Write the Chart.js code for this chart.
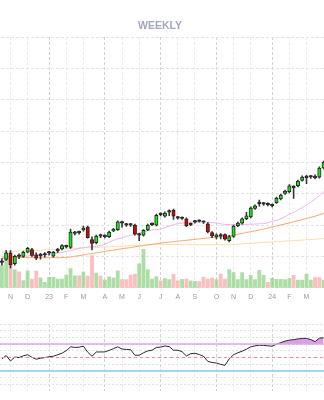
<!DOCTYPE html>
<html>
<head>
<meta charset="utf-8">
<script src="https://cdn.jsdelivr.net/npm/chart.js@4.4.0/dist/chart.umd.min.js"></script>
<style>
  html, body { margin: 0; padding: 0; background: #fff; overflow: hidden; }
  #wrap { position: relative; width: 324px; height: 400px; overflow: hidden; }
  #main { position: absolute; left: -4px; top: 0; }
  #rsi  { position: absolute; left: -4px; top: 324px; }
</style>
</head>
<body>
<div id="wrap">
  <canvas id="main" width="328" height="307"></canvas>
  <canvas id="rsi" width="328" height="67"></canvas>
</div>
<script>
// =====================
// DATA (weekly, first bar = week of 21 Oct 2022)
// =====================
const monthIdx    = [2, 6, 11, 15, 19, 24, 28, 32, 37, 41, 45, 50, 54, 58, 63, 67, 71];
const monthLabels = ["N", "D", "23", "F", "M", "A", "M", "J", "J", "A", "S", "O", "N", "D", "24", "F", "M"];
const quarterIdx  = [11, 24, 37, 50, 63];

const open  = [98.1, 99.06, 101.16, 97.72, 100.0, 100.0, 101.34, 102.19, 100.53, 100.2,
  100.45, 101.1, 100.09, 101.8, 102.41, 103.05, 102.91, 107.35, 107.5, 108.44,
  109.38, 105.41, 104.38, 106.5, 106.45, 106.34, 108.13, 108.53, 110.65, 110.15,
  110.0, 110.0, 106.95, 106.78, 108.44, 110.15, 110.0, 113.5, 112.81, 114.15,
  114.69, 112.4, 112.25, 112.03, 110.1, 110.95, 111.2, 111.0, 110.41, 107.59,
  106.19, 106.5, 106.94, 105.0, 106.41, 109.84, 110.63, 112.03, 112.59, 115.31,
  116.8, 116.85, 116.6, 116.3, 117.19, 118.34, 120.09, 120.63, 122.1, 122.5,
  124.28, 125.15, 125.35, 125.63, 125.31, 128.22];
const high  = [99.3, 101.88, 101.9, 100.4, 100.84, 101.7, 102.9, 102.6, 101.16, 101.0,
  101.2, 101.6, 101.6, 102.6, 103.8, 103.6, 108.75, 108.0, 108.1, 109.7,
  109.7, 106.25, 106.8, 107.1, 106.9, 108.1, 109.0, 111.4, 111.3, 110.6,
  110.6, 110.3, 107.4, 108.6, 110.3, 110.7, 113.5, 113.9, 114.2, 114.9,
  115.1, 112.8, 112.6, 112.3, 110.7, 111.5, 111.7, 111.4, 110.8, 107.9,
  107.2, 107.3, 107.2, 106.7, 110.0, 111.0, 112.3, 114.06, 115.8, 116.5,
  118.0, 117.3, 117.1, 116.7, 118.9, 119.9, 121.2, 122.9, 122.6, 124.4,
  125.7, 125.84, 125.9, 126.0, 128.6, 130.4];
const low   = [97.2, 98.75, 96.34, 97.2, 99.28, 99.7, 101.1, 100.0, 98.97, 99.1,
  99.8, 100.4, 99.8, 101.2, 102.1, 102.7, 102.6, 106.9, 107.1, 108.1,
  105.8, 102.1, 104.0, 106.0, 105.9, 106.0, 107.9, 108.3, 109.3, 109.6,
  109.6, 106.8, 105.0, 106.5, 108.2, 109.8, 109.7, 112.9, 112.5, 113.0,
  111.8, 111.9, 111.8, 109.5, 109.8, 110.6, 110.9, 110.5, 107.5, 106.0,
  105.6, 105.6, 105.2, 104.6, 106.1, 109.5, 110.3, 111.7, 112.3, 115.0,
  116.0, 116.3, 116.1, 115.8, 116.9, 118.0, 119.8, 120.3, 118.53, 122.2,
  124.0, 123.2, 124.9, 124.7, 125.0, 127.9];
const close = [98.3, 101.16, 97.41, 100.0, 100.2, 101.34, 102.59, 100.31, 99.47, 100.4,
  100.6, 101.25, 101.34, 101.95, 103.44, 103.2, 107.81, 107.5, 107.65, 109.06,
  106.03, 104.16, 106.47, 106.65, 106.3, 107.81, 108.66, 111.03, 110.8, 110.0,
  110.15, 107.09, 106.8, 108.34, 110.0, 110.3, 113.13, 113.35, 113.84, 114.3,
  112.81, 112.25, 112.1, 109.84, 110.25, 111.1, 111.3, 110.9, 107.81, 106.56,
  106.88, 106.65, 105.53, 106.34, 109.69, 110.63, 111.97, 112.97, 115.41, 116.16,
  116.95, 116.7, 116.5, 116.2, 118.53, 119.59, 120.84, 122.5, 121.95, 124.06,
  125.31, 125.3, 125.5, 125.09, 128.22, 130.0];

const maFast = [99.38, 99.53, 99.69, 99.84, 100.0, 100.09, 100.22, 100.31, 100.41, 100.47,
  100.63, 100.78, 100.94, 101.09, 101.25, 101.56, 101.88, 102.19, 102.66, 102.81,
  102.97, 103.13, 103.28, 103.44, 103.91, 104.53, 105.16, 105.63, 105.94, 106.41,
  106.72, 107.03, 107.5, 107.81, 108.13, 108.44, 108.59, 108.75, 109.22, 109.69,
  110.16, 110.47, 110.63, 110.78, 110.94, 111.03, 111.09, 111.03, 110.94, 110.84,
  110.63, 110.41, 110.22, 110.16, 110.16, 110.22, 110.22, 110.22, 110.31, 110.31,
  110.41, 110.47, 110.78, 111.25, 111.56, 112.03, 112.66, 113.44, 114.06, 114.84,
  115.63, 116.41, 117.34, 118.28, 119.38, 120.63];
const maMid = [99.78, 99.75, 99.72, 99.69, 99.69, 99.66, 99.63, 99.63, 99.59, 99.59,
  99.59, 99.59, 99.59, 99.59, 99.63, 99.69, 99.84, 100.06, 100.25, 100.47,
  100.72, 100.94, 101.16, 101.38, 101.63, 101.84, 102.03, 102.25, 102.47, 102.66,
  102.84, 103.06, 103.28, 103.5, 103.69, 103.88, 104.06, 104.25, 104.41, 104.56,
  104.69, 104.88, 105.0, 105.16, 105.31, 105.47, 105.63, 105.75, 105.91, 106.06,
  106.19, 106.34, 106.47, 106.56, 106.81, 107.06, 107.34, 107.63, 107.91, 108.16,
  108.44, 108.75, 109.06, 109.38, 109.72, 110.06, 110.38, 110.72, 111.06, 111.41,
  111.75, 112.09, 112.47, 112.84, 113.28, 113.75];
const maSlow = [101.41, 101.47, 101.53, 101.59, 101.66, 101.75, 101.81, 101.88, 101.94, 102.03,
  102.09, 102.16, 102.22, 102.28, 102.38, 102.44, 102.5, 102.56, 102.66, 102.72,
  102.78, 102.84, 102.91, 102.97, 103.0, 103.06, 103.16, 103.22, 103.28, 103.38,
  103.44, 103.5, 103.56, 103.63, 103.69, 103.75, 103.81, 103.84, 103.84, 103.84,
  103.81, 103.81, 103.78, 103.78, 103.75, 103.75, 103.75, 103.75, 103.75, 103.75,
  103.75, 103.75, 103.75, 103.75, 103.81, 103.91, 104.0, 104.09, 104.19, 104.28,
  104.38, 104.47, 104.56, 104.63, 104.72, 104.81, 104.91, 105.0, 105.06, 105.16,
  105.22, 105.31, 105.41, 105.5, 105.59, 105.72];

const volume = [22.3, 30.3, 29.7, 18.7, 16.3, 7.3, 17.3, 9, 17, 10.3,
  5.7, 10.7, 10.7, 9, 9, 13, 19.7, 12.3, 12.3, 16.3,
  12, 33, 15, 12, 8, 11.3, 10, 17.3, 8.5, 8.5,
  13, 14, 24.5, 39.3, 18.5, 9, 11.5, 7, 9.3, 8.5,
  13.7, 7, 8.7, 9, 7, 6.7, 6.3, 11, 9, 10,
  8.5, 14, 9, 18.5, 15.5, 8.5, 15.5, 8.5, 12.7, 8.5,
  17.8, 12.8, 5.5, 9.7, 8.7, 8.7, 8.3, 9.7, 12.8, 8,
  7.8, 14, 8, 10.5, 10.5, 8];
const volUp = [1, 1, 0, 1, 0, 1, 1, 0, 0, 1,
  1, 1, 1, 1, 1, 1, 1, 1, 0, 1,
  0, 0, 1, 0, 1, 1, 1, 1, 0, 0,
  0, 0, 1, 1, 1, 1, 1, 0, 1, 1,
  0, 0, 1, 0, 1, 1, 0, 0, 0, 0,
  1, 0, 0, 1, 1, 1, 1, 1, 1, 1,
  1, 1, 0, 1, 1, 1, 1, 1, 0, 1,
  1, 1, 1, 0, 0, 1];

const rsi = [48.0, 52.9, 44.8, 50.7, 49.9, 52.6, 54.1, 50.4, 47.4, 48.9,
  49.9, 51.1, 51.9, 54.1, 56.4, 60.2, 65.9, 65.1, 65.4, 66.9,
  57.9, 51.9, 58.2, 58.3, 58.3, 60.6, 63.2, 65.9, 62.7, 62.0,
  61.7, 53.4, 53.4, 57.1, 59.8, 60.9, 65.0, 65.4, 67.2, 66.2,
  60.9, 60.9, 58.6, 52.3, 55.6, 56.4, 54.4, 51.9, 44.1, 42.6,
  41.7, 39.8, 38.3, 48.1, 54.1, 57.1, 59.4, 62.4, 65.9, 67.4,
  68.4, 68.0, 67.4, 66.9, 69.9, 72.2, 74.4, 75.9, 76.7, 77.7,
  78.5, 78.5, 76.7, 73.7, 78.9, 79.4];
const rsiLevels = [70, 50, 30];

// =====================
// HELPERS
// =====================
const X_MIN = -1.375;
const X_MAX = 75.08;
const pts = arr => arr.map((v, i) => ({ x: i, y: v }));

function xScale(showLabels) {
  return {
    type: "linear",
    min: X_MIN,
    max: X_MAX,
    offset: false,
    afterBuildTicks: ax => { ax.ticks = monthIdx.map(v => ({ value: v })); },
    ticks: {
      display: showLabels,
      autoSkip: false,
      maxRotation: 0,
      padding: 5.4,
      color: "#9a9a9a",
      font: { family: "Liberation Sans", size: 7 },
      callback: v => monthLabels[monthIdx.indexOf(v)]
    },
    grid: {
      drawTicks: false,
      offset: false,
      color: c => quarterIdx.includes(c.tick && c.tick.value) ? "#d2d2d2" : "#ebebeb"
    },
    border: { display: false, dash: [3, 2] }
  };
}

// =====================
// MAIN PANEL
// =====================
new Chart(document.getElementById("main"), {
  type: "bar",
  data: {
    datasets: [
      {
        label: "vol",
        data: pts(volume),
        yAxisID: "yVol",
        grouped: false,
        barThickness: 3.2,
        backgroundColor: volUp.map(u => u ? "rgba(140,208,130,0.7)" : "rgba(250,170,170,0.75)"),
        order: 6
      },
      {
        type: "line", label: "MA slow", data: pts(maSlow),
        borderColor: "#f9dbb0", borderWidth: 1, pointRadius: 0, tension: 0.3, order: 5
      },
      {
        type: "line", label: "MA mid", data: pts(maMid),
        borderColor: "#f6a66a", borderWidth: 1, pointRadius: 0, tension: 0.3, order: 4
      },
      {
        type: "line", label: "MA fast", data: pts(maFast),
        borderColor: "#f0b4e6", borderWidth: 1, pointRadius: 0, tension: 0.3, order: 3
      },
      {
        label: "wick",
        data: low.map((l, i) => ({ x: i, y: [l, high[i]] })),
        grouped: false,
        barThickness: 1,
        backgroundColor: "#3a3a3a",
        order: 2
      },
      {
        label: "body",
        data: open.map((o, i) => ({ x: i, y: [o, close[i]] })),
        grouped: false,
        barThickness: 3.4,
        minBarLength: 1.5,
        borderSkipped: false,
        borderWidth: 1,
        borderColor: "#262626",
        backgroundColor: open.map((o, i) => Math.abs(close[i] - o) < 0.3 ? "#333" : (close[i] >= o ? "#19e619" : "#e00000")),
        order: 1
      }
    ]
  },
  options: {
    responsive: false,
    animation: false,
    layout: { padding: 0 },
    plugins: {
      legend: { display: false },
      tooltip: { enabled: false },
      title: {
        display: true,
        text: "WEEKLY",
        color: "#a3a7bd",
        font: { family: "Liberation Sans", size: 10.5, weight: "bold" },
        padding: { top: 19.4, bottom: 5 }
      }
    },
    scales: {
      x: xScale(true),
      y: {
        min: 90, max: 170,
        ticks: { display: false, stepSize: 10 },
        grid: { drawTicks: false, color: "#e4e4e4" },
        border: { display: false, dash: [3, 2] }
      },
      yVol: { display: false, min: 0, max: 256 }
    }
  }
});

// =====================
// RSI PANEL
// =====================
const levelColors = ["#dda6ee", "#f08c8c", "#86cdee"];
new Chart(document.getElementById("rsi"), {
  type: "line",
  data: {
    datasets: [
      ...rsiLevels.map((lv, k) => ({
        data: [{ x: X_MIN, y: lv }, { x: X_MAX, y: lv }],
        borderColor: levelColors[k],
        borderWidth: k === 1 ? 1 : 1.5,
        borderDash: k === 1 ? [3, 3] : [],
        pointRadius: 0
      })),
      {
        data: pts(rsi),
        borderColor: "#2a2a2a",
        borderWidth: 1,
        pointRadius: 0,
        tension: 0,
        fill: { target: { value: 70 }, above: "rgba(214,150,228,0.9)", below: "rgba(0,0,0,0)" }
      }
    ]
  },
  options: {
    responsive: false,
    animation: false,
    layout: { padding: 0 },
    plugins: { legend: { display: false }, tooltip: { enabled: false } },
    scales: {
      x: xScale(false),
      y: {
        min: 0, max: 100,
        ticks: { display: false, stepSize: 10 },
        grid: { drawTicks: false, color: "#e2e2e2" },
        border: { display: false, dash: [2, 2] }
      }
    }
  }
});
</script>
</body>
</html>
